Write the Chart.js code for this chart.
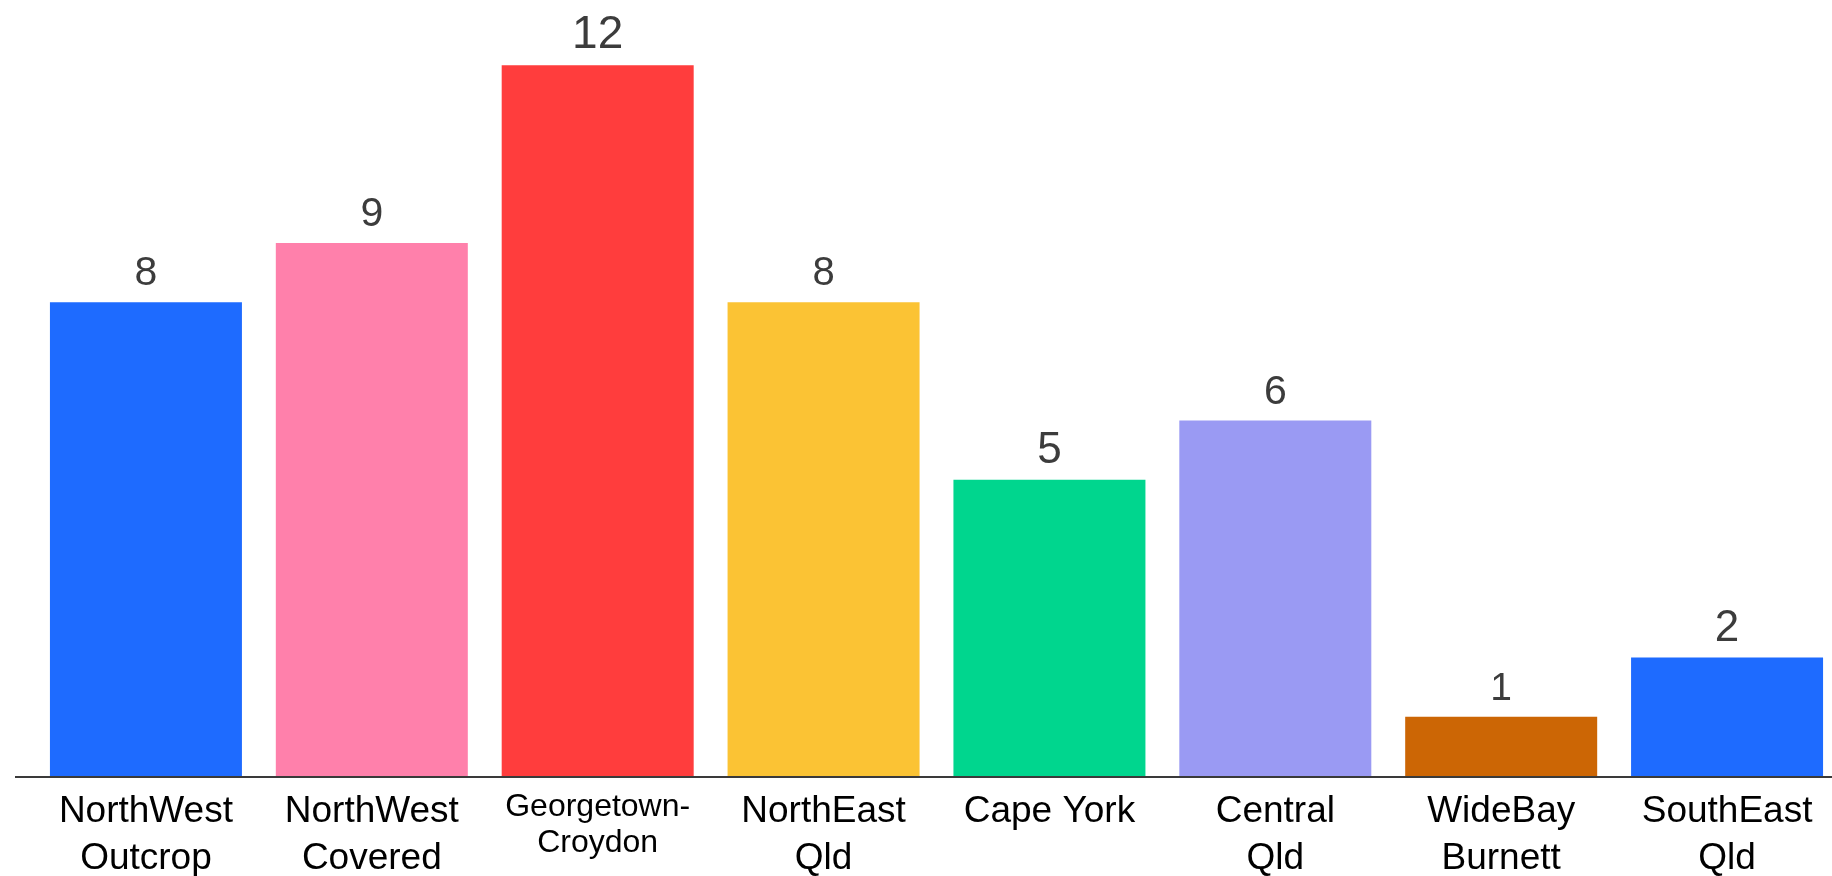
<!DOCTYPE html>
<html>
<head>
<meta charset="utf-8">
<script src="https://cdn.jsdelivr.net/npm/chart.js@4.4.1/dist/chart.umd.min.js"></script>
<style>
  html, body { margin: 0; padding: 0; background: #ffffff; overflow: hidden; }
  #wrap { width: 1840px; height: 876px; position: relative; }
</style>
</head>
<body>
<div id="wrap"><canvas id="c"></canvas></div>
<script>
// ---- data ----
const categories = [
  ["NorthWest", "Outcrop"],
  ["NorthWest", "Covered"],
  ["Georgetown-", "Croydon"],
  ["NorthEast", "Qld"],
  ["Cape York"],
  ["Central", "Qld"],
  ["WideBay", "Burnett"],
  ["SouthEast", "Qld"]
];
const counts = [8, 9, 12, 8, 5, 6, 1, 2];

// ---- styles ----
const barColors = ["#1E6BFF", "#FF80AB", "#FF3D3D", "#FBC334", "#00D68E", "#9A9AF3", "#CC6605", "#1E6BFF"];
const valueLabelSizes = [41, 41, 46, 40, 44, 41, 39, 44];
const tickFontSizes = [37, 37, 32, 37, 37, 37, 37, 37];
const tickLineHeights = [1.25, 1.25, 1.12, 1.25, 1.25, 1.25, 1.25, 1.25];

const valueLabels = {
  id: 'valueLabels',
  afterDatasetsDraw(chart) {
    const ctx = chart.ctx;
    const meta = chart.getDatasetMeta(0);
    ctx.save();
    ctx.fillStyle = '#3c3c3c';
    ctx.textAlign = 'center';
    ctx.textBaseline = 'alphabetic';
    meta.data.forEach((bar, i) => {
      ctx.font = valueLabelSizes[i] + 'px "Liberation Sans", Arial, sans-serif';
      ctx.fillText(String(counts[i]), bar.x, bar.y - 17);
    });
    ctx.restore();
  }
};

const baseLine = {
  id: 'baseLine',
  afterDatasetsDraw(chart) {
    const ctx = chart.ctx;
    const y = chart.scales.y.getPixelForValue(0);
    ctx.save();
    ctx.strokeStyle = '#3a3a3a';
    ctx.lineWidth = 2;
    ctx.beginPath();
    ctx.moveTo(15, y + 1);
    ctx.lineTo(chart.width, y + 1);
    ctx.stroke();
    ctx.restore();
  }
};

new Chart(document.getElementById('c'), {
  type: 'bar',
  data: {
    labels: categories,
    datasets: [{
      data: counts,
      backgroundColor: barColors,
      borderWidth: 0,
      barPercentage: 0.85,
      categoryPercentage: 1.0
    }]
  },
  options: {
    responsive: true,
    maintainAspectRatio: false,
    animation: false,
    devicePixelRatio: 1,
    layout: { padding: { top: 6, left: 33, right: 0, bottom: 0 } },
    plugins: { legend: { display: false }, tooltip: { enabled: false } },
    scales: {
      x: {
        grid: { display: false, drawTicks: false },
        border: { display: false },
        ticks: {
          color: '#000000',
          padding: 13,
          maxRotation: 0,
          autoSkip: false,
          font: (ctx) => ({
            family: '"Liberation Sans", Arial, sans-serif',
            size: tickFontSizes[ctx.index] || 37,
            lineHeight: tickLineHeights[ctx.index] || 1.25
          })
        },
        afterFit(scale) { scale.height = 100; }
      },
      y: {
        display: false,
        min: 0,
        max: 13
      }
    }
  },
  plugins: [valueLabels, baseLine]
});
</script>
</body>
</html>
